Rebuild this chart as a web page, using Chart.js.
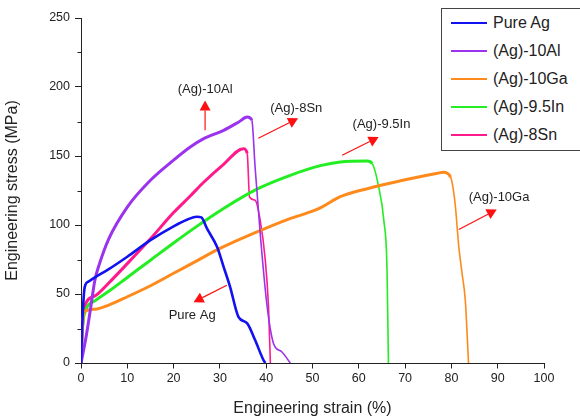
<!DOCTYPE html>
<html>
<head>
<meta charset="utf-8">
<script src="https://cdn.jsdelivr.net/npm/chart.js"></script>
<style>
  body { margin: 0; background: #fff; }
  #wrap { position: relative; width: 580px; height: 418px; overflow: hidden; }
  #legend {
    position: absolute; left: 441px; top: 8px; width: 150px; height: 143px;
    border: 1px solid #444; box-sizing: border-box; background: #fff;
    font: 16px "Liberation Sans", Arial, sans-serif; color: #222;
  }
  #legend .item { position: absolute; left: 9px; height: 20px; display: flex; align-items: center; }
  #legend .swatch { width: 36px; height: 2px; margin-right: 6px; }
</style>
</head>
<body>
<div id="wrap">
  <canvas id="chart" width="580" height="418"></canvas>
  <div id="legend"></div>
</div>
<script>
// tensile curves, strain (%) vs stress (MPa)
const seriesNames = ['Pure Ag', '(Ag)-10Al', '(Ag)-10Ga', '(Ag)-9.5In', '(Ag)-8Sn'];

const pureAgStrain = [0, 0.3, 0.8, 1.6, 3, 6, 10, 15, 20, 23, 25, 26, 27.2, 29.4, 30.8, 32.2, 34, 35.9, 37.6, 39.4, 39.8];
const pureAgStress = [0, 30, 55, 59, 62, 68, 77, 89, 99, 104, 106, 105.5, 97.5, 84, 69.7, 55.2, 33.5, 28.7, 16.6, 2.2, 0];

const al10Strain = [0, 1, 2, 3, 4, 6, 10, 15, 20, 23.6, 26.5, 30.8, 34, 35.9, 36.9, 37.6, 38.7, 40.2, 41.6, 43.4, 45.2];
const al10Stress = [0, 17, 38, 60, 72, 90, 113, 132.4, 147, 156.5, 162.6, 168.6, 174.5, 178.2, 176, 142, 94, 41, 14, 8, 0];

const ga10Strain = [0, 0.3, 0.6, 3, 6, 10, 15, 20, 25, 30, 38, 45, 50, 52, 56, 62, 69, 77, 78.3, 79.8, 80.8, 81.6, 82.3, 83, 83.7];
const ga10Stress = [0, 25, 37, 39, 42, 48, 56, 65, 74, 83, 95, 104.5, 110, 113, 120.5, 126.5, 132, 137.5, 138.2, 134.8, 115.6, 84.2, 65, 45.6, 0];

const in95Strain = [0, 0.3, 1, 3, 6, 10, 15, 20, 25, 30.8, 38, 45.2, 51.7, 56, 61.8, 62.9, 64.3, 65.4, 66.1, 66.4];
const in95Stress = [0, 25, 38, 45, 52, 62, 74.5, 87, 99, 112, 126, 136, 143, 145.7, 146.4, 144.5, 127.6, 103.5, 67.3, 0];

const sn8Strain = [0, 0.4, 1, 3, 6, 10, 15, 20, 23.6, 26.5, 30.8, 35.1, 35.9, 36.4, 37.6, 38.7, 39.8, 40.5, 40.9];
const sn8Stress = [0, 30, 43, 48.5, 58, 72, 90, 109, 121, 131, 144, 155.3, 152, 120.3, 118, 103.5, 74.5, 40.7, 0];

const xTicks = [0, 10, 20, 30, 40, 50, 60, 70, 80, 90, 100];
const yTicks = [0, 50, 100, 150, 200, 250];

// callout labels: text, arrow tail, arrow tip, text centre (data units)
const calloutText = ['(Ag)-10Al', '(Ag)-8Sn', '(Ag)-9.5In', '(Ag)-10Ga', 'Pure Ag'];
const calloutTail = [[26.8, 168.6], [38.3, 162.8], [56.4, 150.5], [81.6, 96.7], [31.5, 56.4]];
const calloutTip = [[26.8, 190.3], [46.9, 177.3], [64.3, 163.7], [89.8, 111.2], [24.3, 44.1]];
const calloutLabel = [[26.8, 198.5], [46.5, 184.5], [64.9, 172.9], [90.3, 120.1], [24, 34.5]];

const colors = ['#1212f0', '#9a32ee', '#ff8a1c', '#22ee22', '#ff1a8c'];
const thinFrom = [999, 36.5, 79, 62.5, 35.8];   // falling part of the curve is drawn thinner

const strains = [pureAgStrain, al10Strain, ga10Strain, in95Strain, sn8Strain];
const stresses = [pureAgStress, al10Stress, ga10Stress, in95Stress, sn8Stress];

const datasets = seriesNames.map((name, i) => ({
  label: name,
  data: strains[i].map((x, j) => ({ x, y: stresses[i][j] })),
  borderColor: colors[i],
  backgroundColor: colors[i],
  borderWidth: 3,
  pointRadius: 0,
  cubicInterpolationMode: 'monotone',
  segment: {
    borderWidth: ctx => (ctx.p0.parsed.x >= thinFrom[i] ? 1.6 : (i === 0 ? 2.6 : 3))
  }
}));

// html legend
const legendEl = document.getElementById('legend');
seriesNames.forEach((name, i) => {
  const item = document.createElement('div');
  item.className = 'item';
  item.style.top = (4 + i * 28) + 'px';
  item.innerHTML = `<span class="swatch" style="background:${colors[i]}"></span><span>${name}</span>`;
  legendEl.appendChild(item);
});

const isMajor = (axis, v) => (axis === 'x' ? xTicks : yTicks).includes(v);

// short minor ticks (major ones come from the grid)
const minorTicks = {
  id: 'minorTicks',
  afterDraw(chart) {
    const { ctx, scales: { x, y } } = chart;
    ctx.save();
    ctx.strokeStyle = '#222';
    ctx.lineWidth = 1;
    ctx.beginPath();
    x.ticks.forEach(t => {
      if (isMajor('x', t.value)) return;
      const px = Math.round(x.getPixelForValue(t.value)) + 0.5;
      ctx.moveTo(px, y.bottom);
      ctx.lineTo(px, y.bottom + 3.5);
    });
    y.ticks.forEach(t => {
      if (isMajor('y', t.value)) return;
      const py = Math.round(y.getPixelForValue(t.value)) + 0.5;
      ctx.moveTo(x.left, py);
      ctx.lineTo(x.left - 3.5, py);
    });
    ctx.stroke();
    ctx.restore();
  }
};

const callouts = {
  id: 'callouts',
  afterDatasetsDraw(chart) {
    const { ctx, scales: { x, y } } = chart;
    ctx.save();
    calloutText.forEach((text, i) => {
      const x0 = x.getPixelForValue(calloutTail[i][0]);
      const y0 = y.getPixelForValue(calloutTail[i][1]);
      const x1 = x.getPixelForValue(calloutTip[i][0]);
      const y1 = y.getPixelForValue(calloutTip[i][1]);
      const ang = Math.atan2(y1 - y0, x1 - x0);
      const head = 10, half = 5.5;
      const bx = x1 - head * Math.cos(ang), by = y1 - head * Math.sin(ang);
      ctx.strokeStyle = '#ff1010';
      ctx.fillStyle = '#ff1010';
      ctx.lineWidth = 1.2;
      ctx.beginPath();
      ctx.moveTo(x0, y0);
      ctx.lineTo(bx, by);
      ctx.stroke();
      ctx.beginPath();
      ctx.moveTo(x1, y1);
      ctx.lineTo(bx + half * Math.sin(ang), by - half * Math.cos(ang));
      ctx.lineTo(bx - half * Math.sin(ang), by + half * Math.cos(ang));
      ctx.closePath();
      ctx.fill();
      ctx.fillStyle = '#222';
      ctx.font = '13px "Liberation Sans", Arial, sans-serif';
      ctx.textAlign = 'center';
      ctx.textBaseline = 'middle';
      ctx.fillText(text, x.getPixelForValue(calloutLabel[i][0]), y.getPixelForValue(calloutLabel[i][1]));
    });
    ctx.restore();
  }
};

const tickFont = { family: '"Liberation Sans", Arial, sans-serif', size: 12.5 };
const titleFont = { family: '"Liberation Sans", Arial, sans-serif', size: 16 };

new Chart(document.getElementById('chart'), {
  type: 'scatter',
  data: { datasets },
  options: {
    responsive: false,
    animation: false,
    showLine: true,
    layout: { padding: { left: 0, top: 18, right: 36, bottom: 0 } },
    plugins: { legend: { display: false }, tooltip: { enabled: false } },
    scales: {
      x: {
        type: 'linear', min: 0, max: 100,
        afterFit: s => { s.height = 55; },
        ticks: {
          stepSize: 5, color: '#222', font: tickFont, padding: 3, maxRotation: 0,
          callback: v => (isMajor('x', v) ? v : '')
        },
        grid: {
          drawOnChartArea: false, drawTicks: true, tickLength: 5.5, color: '#222',
          tickColor: c => (c.tick && isMajor('x', c.tick.value) ? '#222' : 'rgba(0,0,0,0)')
        },
        border: { display: true, color: '#222', width: 1 },
        title: { display: true, text: 'Engineering strain (%)', color: '#222', font: titleFont, padding: { top: 0, bottom: 0 } }
      },
      y: {
        type: 'linear', min: 0, max: 250,
        afterFit: s => { s.width = 81; },
        ticks: {
          stepSize: 25, color: '#222', font: tickFont, padding: 5,
          callback: v => (isMajor('y', v) ? v : '')
        },
        grid: {
          drawOnChartArea: false, drawTicks: true, tickLength: 6, color: '#222',
          tickColor: c => (c.tick && isMajor('y', c.tick.value) ? '#222' : 'rgba(0,0,0,0)')
        },
        border: { display: true, color: '#222', width: 1 },
        title: { display: true, text: 'Engineering stress (MPa)', color: '#222', font: titleFont, padding: { top: 3, bottom: 0 } }
      }
    }
  },
  plugins: [callouts, minorTicks]
});
</script>
</body>
</html>
